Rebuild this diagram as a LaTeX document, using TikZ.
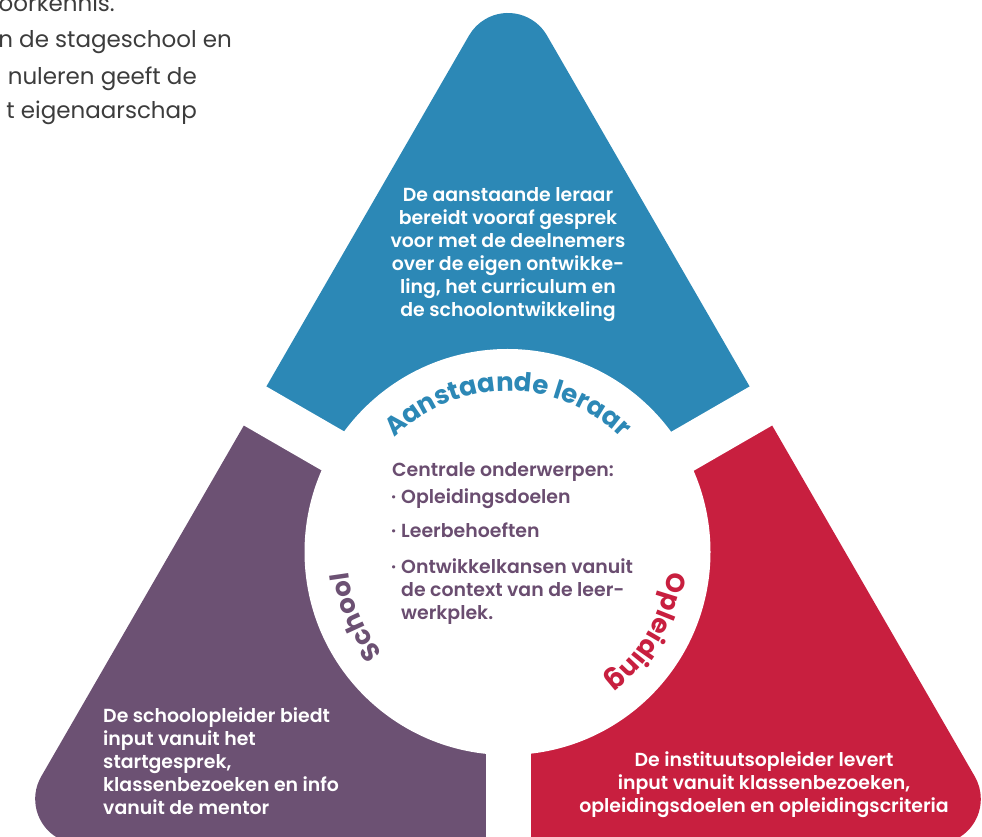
\documentclass[tikz,border=0pt]{standalone}
\usepackage{fontspec}
\setmainfont{Poppins}[BoldFont={Poppins SemiBold}]
\newfontfamily\lblfont{Poppins Bold}
\usetikzlibrary{decorations.text,calc}
\definecolor{cblue}{HTML}{2C88B6}
\definecolor{cpurple}{HTML}{6C5173}
\definecolor{cred}{HTML}{C81F3F}
\definecolor{ctext}{HTML}{6A4D70}
\definecolor{cgray}{HTML}{3C3C3C}
\tikzset{
  body/.style={font=\fontsize{18.9}{23}\selectfont\bfseries, inner sep=0pt},
  intro/.style={font=\fontsize{23}{36}\selectfont, text=cgray, inner sep=0pt, anchor=base east},
}
\begin{document}
\begin{tikzpicture}[x=1pt,y=1pt]
\useasboundingbox (0,0) rectangle (982,837);
\coordinate (O) at (508,285);
\coordinate (C1) at ($(O)+(90:494)$);
\coordinate (C2) at ($(O)+(210:494)$);
\coordinate (C3) at ($(O)+(330:494)$);
% blue sector
\begin{scope}
  \clip (O) -- ($(O)+(30:900)$) -- ($(O)+(90:900)$) -- ($(O)+(150:900)$) -- cycle;
  \fill[cblue] ($(C1)+(30:45)$) arc[start angle=30,end angle=150,radius=45] -- ($(C2)+(150:45)$) arc[start angle=150,end angle=270,radius=45] -- ($(C3)+(270:45)$) arc[start angle=270,end angle=390,radius=45] -- cycle;
\end{scope}
% purple sector
\begin{scope}
  \clip (O) -- ($(O)+(150:900)$) -- ($(O)+(210:900)$) -- ($(O)+(270:900)$) -- cycle;
  \fill[cpurple] ($(C1)+(30:45)$) arc[start angle=30,end angle=150,radius=45] -- ($(C2)+(150:45)$) arc[start angle=150,end angle=270,radius=45] -- ($(C3)+(270:45)$) arc[start angle=270,end angle=390,radius=45] -- cycle;
\end{scope}
% red sector
\begin{scope}
  \clip (O) -- ($(O)+(270:900)$) -- ($(O)+(330:900)$) -- ($(O)+(390:900)$) -- cycle;
  \fill[cred] ($(C1)+(30:45)$) arc[start angle=30,end angle=150,radius=45] -- ($(C2)+(150:45)$) arc[start angle=150,end angle=270,radius=45] -- ($(C3)+(270:45)$) arc[start angle=270,end angle=390,radius=45] -- cycle;
\end{scope}
% gaps and centre circle
\draw[white, line width=45pt] (O) -- ++(150:700);
\draw[white, line width=45pt] (O) -- ++(30:700);
\draw[white, line width=45pt] (O) -- ++(270:700);
\fill[white] (507.5,285) circle[radius=203];
% curved labels
\path[decorate, decoration={text along path, text align=center,
  text={|\fontsize{26}{26}\selectfont\lblfont\color{cblue}|Aanstaande leraar}}]
  ($(O)+(150:161)$) arc[start angle=150,end angle=30,radius=161];
\path[decorate, decoration={text along path, text align=center,
  text={|\fontsize{26}{26}\selectfont\lblfont\color{cpurple}|School}}]
  ($(O)+(263:161)$) arc[start angle=263,end angle=143,radius=161];
\path[decorate, decoration={text along path, text align=center,
  text={|\fontsize{26}{26}\selectfont\lblfont\color{cred}|Opleiding}}]
  ($(O)+(30:161)$) arc[start angle=30,end angle=-90,radius=161];
% intro text (cut at left)
\node[intro] (i1) at (115,825) {oorkennis.};
\node[intro] (i2) at (232,789) {n de stageschool en};
\node[intro] (i3) at (197,752) {nuleren geeft de};
\node[intro] (i4) at (197,718) {t eigenaarschap};
% blue text
\foreach \t [count=\i] in {De aanstaande leraar, bereidt vooraf gesprek, voor met de deelnemers, over de eigen ontwikke-, {ling, het curriculum en}, de schoolontwikkeling}
  \node[body, text=white, anchor=base] (b\i) at (508,{635-23*(\i-1)}) {\t};
% purple text
\foreach \t [count=\i] in {De schoolopleider biedt, input vanuit het, {startgesprek,}, klassenbezoeken en info, vanuit de mentor}
  \node[body, text=white, anchor=base west] (p\i) at (103,{114-23*(\i-1)}) {\t};
% red text
\foreach \t [count=\i] in {De instituutsopleider levert, {input vanuit klassenbezoeken,}, opleidingsdoelen en opleidingscriteria}
  \node[body, text=white, anchor=base] (r\i) at (764,{70-23*(\i-1)}) {\t};
% centre text
\node[body, text=ctext, anchor=base west] (c0) at (392,360) {Centrale onderwerpen:};
\node[body, text=ctext, anchor=base west] (d1) at (391,333) {·};
\node[body, text=ctext, anchor=base west] (c1) at (401,333) {Opleidingsdoelen};
\node[body, text=ctext, anchor=base west] (d2) at (391,299) {·};
\node[body, text=ctext, anchor=base west] (c2) at (401,299) {Leerbehoeften};
\node[body, text=ctext, anchor=base west] (d3) at (391,263) {·};
\node[body, text=ctext, anchor=base west] (c3) at (401,263) {Ontwikkelkansen vanuit};
\node[body, text=ctext, anchor=base west] (c4) at (401,240) {de context van de leer-};
\node[body, text=ctext, anchor=base west] (c5) at (401,217) {werkplek.};
\end{tikzpicture}
\end{document}
